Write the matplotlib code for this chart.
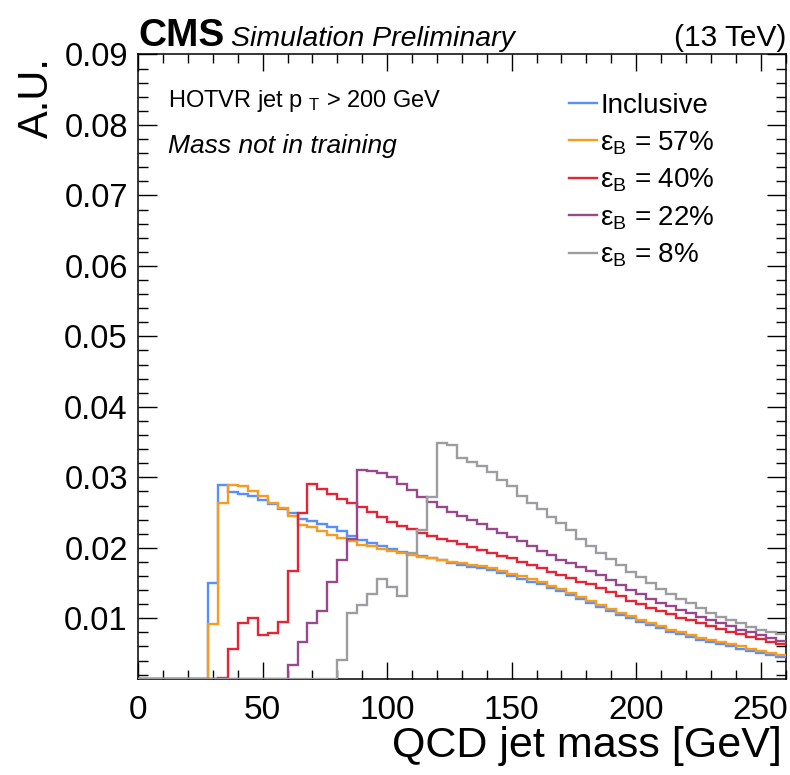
import numpy as np
import matplotlib
matplotlib.use("Agg")
import matplotlib.pyplot as plt
from matplotlib.lines import Line2D
from matplotlib.ticker import MultipleLocator, FixedLocator, FormatStrFormatter

plt.rcParams['font.family'] = ['Liberation Sans', 'DejaVu Sans']
plt.rcParams['mathtext.fontset'] = 'custom'
plt.rcParams['mathtext.rm'] = 'Liberation Sans'
plt.rcParams['mathtext.it'] = 'Liberation Sans:italic'
plt.rcParams['mathtext.bf'] = 'Liberation Sans:bold'

# 4 GeV bins from 0 to 260 GeV
bin_edges = np.arange(0, 264, 4)

inclusive = [0, 0, 0, 0, 0, 0, 0,
             0.0150, 0.0289, 0.0279, 0.0276, 0.0273, 0.0268, 0.0262, 0.0255,
             0.0250, 0.0241, 0.0238, 0.0234, 0.0229, 0.0224, 0.0217, 0.0211,
             0.0207, 0.0202, 0.0198, 0.0194, 0.0191, 0.0188, 0.0185, 0.0182,
             0.0179, 0.0176, 0.0173, 0.0171, 0.0168, 0.0164, 0.0160, 0.0156,
             0.0152, 0.0148, 0.0143, 0.0138, 0.0133, 0.0127, 0.0122, 0.0116,
             0.0110, 0.0105, 0.0100, 0.0095, 0.0090, 0.0086, 0.0081, 0.0077,
             0.0073, 0.0069, 0.0066, 0.0063, 0.0060, 0.0057, 0.0054, 0.0051,
             0.0048, 0.0045]

eff57 = [0, 0, 0, 0, 0, 0, 0,
         0.0092, 0.0264, 0.0289, 0.0287, 0.0281, 0.0273, 0.0263, 0.0256,
         0.0245, 0.0233, 0.0230, 0.0224, 0.0218, 0.0214, 0.0209, 0.0204,
         0.0202, 0.0198, 0.0196, 0.0193, 0.0190, 0.0187, 0.0185, 0.0182,
         0.0180, 0.0178, 0.0176, 0.0174, 0.0171, 0.0167, 0.0163, 0.0160,
         0.0156, 0.0151, 0.0146, 0.0141, 0.0136, 0.0130, 0.0125, 0.0119,
         0.0113, 0.0108, 0.0103, 0.0098, 0.0093, 0.0089, 0.0084, 0.0080,
         0.0076, 0.0072, 0.0069, 0.0066, 0.0063, 0.0060, 0.0057, 0.0054,
         0.0051, 0.0048]

eff40 = [0, 0, 0, 0, 0, 0, 0, 0,
         0.0015, 0.0056, 0.0093, 0.0101, 0.0076, 0.0079, 0.0094, 0.0167,
         0.0249, 0.0291, 0.0284, 0.0276, 0.0269, 0.0263, 0.0258, 0.0251,
         0.0244, 0.0237, 0.0231, 0.0226, 0.0221, 0.0217, 0.0213, 0.0209,
         0.0205, 0.0201, 0.0197, 0.0193, 0.0189, 0.0185, 0.0180, 0.0176,
         0.0171, 0.0166, 0.0161, 0.0157, 0.0152, 0.0148, 0.0143, 0.0137,
         0.0131, 0.0125, 0.0120, 0.0115, 0.0110, 0.0106, 0.0101, 0.0097,
         0.0093, 0.0089, 0.0085, 0.0081, 0.0077, 0.0074, 0.0070, 0.0067,
         0.0063]

eff22 = [0, 0, 0, 0, 0, 0, 0, 0, 0, 0, 0, 0, 0, 0, 0,
         0.0033, 0.0067, 0.0093, 0.0110, 0.0152, 0.0183, 0.0213, 0.0310,
         0.0309, 0.0306, 0.0300, 0.0291, 0.0282, 0.0272, 0.0265, 0.0258,
         0.0251, 0.0245, 0.0239, 0.0234, 0.0227, 0.0221, 0.0216, 0.0209,
         0.0202, 0.0195, 0.0190, 0.0183, 0.0178, 0.0173, 0.0167, 0.0161,
         0.0154, 0.0147, 0.0140, 0.0134, 0.0128, 0.0122, 0.0117, 0.0112,
         0.0107, 0.0102, 0.0097, 0.0093, 0.0089, 0.0084, 0.0080, 0.0076,
         0.0072, 0.0068]

eff8 = [0, 0, 0, 0, 0, 0, 0, 0, 0, 0, 0, 0, 0, 0, 0, 0, 0, 0, 0, 0,
        0.0041, 0.0107, 0.0119, 0.0135, 0.0155, 0.0145, 0.0131, 0.0193,
        0.0225, 0.0272, 0.0348, 0.0346, 0.0327, 0.0322, 0.0316, 0.0307,
        0.0296, 0.0287, 0.0274, 0.0264, 0.0255, 0.0244, 0.0235, 0.0225,
        0.0213, 0.0202, 0.0192, 0.0184, 0.0176, 0.0166, 0.0158, 0.0150,
        0.0142, 0.0135, 0.0127, 0.0121, 0.0114, 0.0108, 0.0102, 0.0098,
        0.0093, 0.0088, 0.0084, 0.0081, 0.0078]

series = [inclusive, eff57, eff40, eff22, eff8]
labels = ['Inclusive',
          r'ε$_{\mathrm{B}}$ = 57%',
          r'ε$_{\mathrm{B}}$ = 40%',
          r'ε$_{\mathrm{B}}$ = 22%',
          r'ε$_{\mathrm{B}}$ = 8%']
colors = ['#5790fc', '#f89c20', '#e42536', '#964a8b', '#9c9ca1']

x_range = (0, 260)
y_range = (0.00134, 0.09)
x_ticks_major = [0, 50, 100, 150, 200, 250]
y_ticks_major = [0.01, 0.02, 0.03, 0.04, 0.05, 0.06, 0.07, 0.08, 0.09]

fig = plt.figure(figsize=(7.9, 7.75), dpi=100)
ax = fig.add_axes([0.1749, 0.1235, 0.8195, 0.8062])

for vals, col in zip(series, colors):
    # empty bins are drawn along the lower frame edge
    shown = np.maximum(np.asarray(vals, dtype=float), y_range[0])
    ax.stairs(shown, bin_edges, baseline=None, color=col, lw=1.7, zorder=3)

ax.set_xlim(*x_range)
ax.set_ylim(*y_range)

ax.xaxis.set_major_locator(FixedLocator(x_ticks_major))
ax.xaxis.set_minor_locator(MultipleLocator(10))
ax.yaxis.set_major_locator(FixedLocator(y_ticks_major))
ax.yaxis.set_minor_locator(MultipleLocator(0.002))
ax.yaxis.set_major_formatter(FormatStrFormatter('%.2f'))

ax.tick_params(which='both', direction='in', top=True, right=True, width=1.0)
ax.tick_params(axis='x', which='major', length=12.5, labelsize=24, pad=11.5)
ax.tick_params(axis='x', which='minor', length=6.5)
ax.tick_params(axis='y', which='major', length=14, labelsize=23.5, pad=7.5)
ax.tick_params(axis='y', which='minor', length=7)
for sp in ax.spines.values():
    sp.set_linewidth(1.1)

# axis titles
fig.text(782 / 790, 1 - 757 / 775, 'QCD jet mass [GeV]', ha='right',
         va='baseline', fontsize=31)
fig.text(37 / 790, 1 - 57 / 775, 'A.U.', rotation=90, ha='center', va='top',
         fontsize=30)

# header
fig.text(138 / 790, 1 - 46 / 775, 'CMS', fontsize=28, fontweight='bold',
         ha='left', va='baseline')
fig.text(231 / 790, 1 - 46 / 775, 'Simulation Preliminary', fontsize=20.5,
         style='italic', ha='left', va='baseline')
fig.text(786 / 790, 1 - 46 / 775, '(13 TeV)', fontsize=21.5,
         ha='right', va='baseline')

# selection notes
ax.text(0.046, 0.925, r'HOTVR jet p $_{\mathrm{T}}$ > 200 GeV', fontsize=17,
        transform=ax.transAxes, ha='left', va='center')
ax.text(0.046, 0.854, 'Mass not in training', fontsize=19, style='italic',
        transform=ax.transAxes, ha='left', va='center')

handles = [Line2D([], [], color=c, lw=1.7) for c in colors]
ax.legend(handles, labels, loc='upper left', bbox_to_anchor=(0.6654, 0.938),
          frameon=False, fontsize=20, handlelength=1.0, handletextpad=0.12,
          labelspacing=0.36, borderpad=0, borderaxespad=0)

fig.savefig('out.png', dpi=100)
